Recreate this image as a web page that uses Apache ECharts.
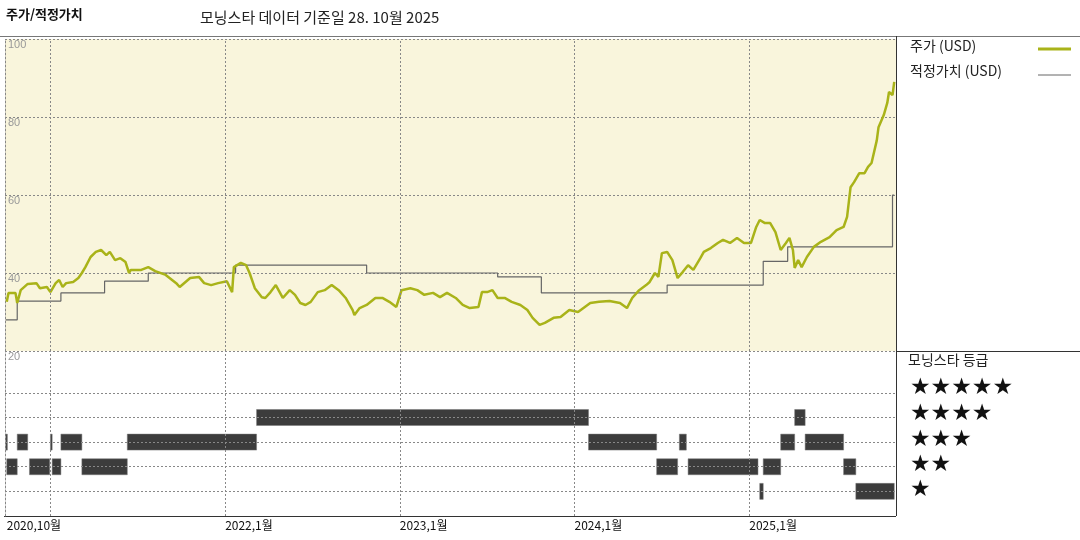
<!DOCTYPE html>
<html>
<head>
<meta charset="utf-8">
<script src="https://cdn.jsdelivr.net/npm/echarts@6/dist/echarts.min.js"></script>
<style>
html, body { margin: 0; padding: 0; background: #fff; }
#main { width: 1080px; height: 540px; }
</style>
</head>
<body>
<div id="main"></div>
<script>
// dates as decimal years
var priceDates = [2020.75, 2020.76, 2020.80, 2020.81, 2020.83, 2020.87, 2020.92, 2020.94, 2020.98, 2021.00,
    2021.03, 2021.05, 2021.07, 2021.09, 2021.13, 2021.16, 2021.18, 2021.20, 2021.23, 2021.26,
    2021.29, 2021.32, 2021.34, 2021.37, 2021.40, 2021.43, 2021.45, 2021.46, 2021.52, 2021.56,
    2021.60, 2021.66, 2021.72, 2021.74, 2021.80, 2021.85, 2021.88, 2021.92, 2021.96, 2022.01,
    2022.04, 2022.05, 2022.09, 2022.12, 2022.14, 2022.17, 2022.21, 2022.23, 2022.26, 2022.29,
    2022.33, 2022.37, 2022.40, 2022.43, 2022.46, 2022.49, 2022.53, 2022.57, 2022.61, 2022.65,
    2022.69, 2022.73, 2022.74, 2022.77, 2022.81, 2022.86, 2022.90, 2022.94, 2022.98, 2023.01,
    2023.06, 2023.10, 2023.14, 2023.19, 2023.23, 2023.27, 2023.32, 2023.36, 2023.40, 2023.45,
    2023.47, 2023.50, 2023.53, 2023.56, 2023.60, 2023.64, 2023.69, 2023.73, 2023.76, 2023.80,
    2023.83, 2023.88, 2023.92, 2023.97, 2024.02, 2024.09, 2024.14, 2024.20, 2024.26, 2024.30,
    2024.33, 2024.37, 2024.41, 2024.43, 2024.46, 2024.48, 2024.50, 2024.53, 2024.56, 2024.59,
    2024.62, 2024.65, 2024.68, 2024.72, 2024.74, 2024.78, 2024.82, 2024.85, 2024.89, 2024.93,
    2024.97, 2025.01, 2025.04, 2025.06, 2025.09, 2025.12, 2025.15, 2025.18, 2025.21, 2025.23,
    2025.25, 2025.26, 2025.28, 2025.30, 2025.33, 2025.37, 2025.41, 2025.46, 2025.50, 2025.54,
    2025.56, 2025.58, 2025.60, 2025.63, 2025.66, 2025.68, 2025.70, 2025.73, 2025.74, 2025.77,
    2025.79, 2025.80, 2025.82, 2025.83];
var priceValues = [32.6, 34.9, 34.9, 32.3, 35.6, 37.2, 37.4, 36.1, 36.4, 35.1,
    37.4, 38.2, 36.4, 37.4, 37.7, 38.7, 40.0, 41.5, 44.1, 45.4,
    45.9, 44.6, 45.4, 43.3, 43.8, 42.8, 40.0, 40.8, 40.8, 41.5,
    40.5, 39.5, 37.4, 36.4, 38.7, 39.0, 37.4, 36.9, 37.4, 37.9,
    35.1, 41.5, 42.6, 42.0, 40.0, 36.1, 33.8, 33.6, 35.1, 36.9,
    33.6, 35.6, 34.4, 32.3, 31.8, 32.6, 35.1, 35.6, 36.9, 35.6,
    33.6, 30.5, 29.2, 31.0, 31.8, 33.6, 33.6, 32.6, 31.3, 35.6,
    36.1, 35.6, 34.4, 34.9, 33.8, 34.9, 33.6, 31.8, 31.0, 31.3,
    35.1, 35.1, 35.6, 33.6, 33.6, 32.6, 31.8, 30.5, 28.5, 26.7,
    27.2, 28.5, 28.7, 30.5, 30.0, 32.3, 32.6, 32.8, 32.3, 31.0,
    33.6, 35.6, 36.9, 37.7, 40.0, 39.0, 45.1, 45.4, 43.3, 38.7,
    40.3, 42.0, 40.8, 43.8, 45.4, 46.4, 47.7, 48.5, 47.7, 49.0,
    47.7, 47.7, 51.8, 53.6, 52.8, 52.8, 50.5, 45.9, 47.7, 49.0,
    45.9, 41.3, 43.3, 41.5, 44.1, 46.7, 48.0, 49.2, 51.0, 51.8,
    54.4, 62.0, 63.3, 65.6, 65.6, 67.2, 68.2, 74.0, 77.4, 80.5,
    83.6, 86.4, 85.6, 89.0];

var fairDates = [2020.745, 2020.81, 2021.06, 2021.31, 2021.56, 2022.06, 2022.81, 2023.56, 2023.81, 2024.53, 2025.08, 2025.22, 2025.82, 2025.83];
var fairValues = [28, 32.8, 34.9, 37.9, 40, 42, 40, 39, 34.9, 36.9, 43, 46.7, 60, 60];

var ratingStart = [2020.745, 2020.75, 2020.81, 2020.88, 2021.00, 2021.01, 2021.06, 2021.18, 2021.44, 2022.18, 2024.08, 2024.47, 2024.60, 2024.65, 2025.06, 2025.08, 2025.18, 2025.26, 2025.32, 2025.54, 2025.61];
var ratingEnd = [2020.75, 2020.81, 2020.87, 2020.996, 2021.01, 2021.06, 2021.18, 2021.44, 2022.18, 2024.08, 2024.47, 2024.59, 2024.64, 2025.05, 2025.08, 2025.18, 2025.26, 2025.32, 2025.54, 2025.61, 2025.83];
var ratingStars = [3, 2, 3, 2, 3, 2, 3, 2, 3, 4, 3, 2, 3, 2, 1, 2, 3, 4, 3, 2, 1];

var xTicks = [2020.75, 2021, 2022, 2023, 2024, 2025];
var starRows = [5, 4, 3, 2, 1];

var xMin = 2020.74, xMax = 2025.84;
var dash = { color: '#888', type: [2, 2], width: 1 };

var priceData = priceDates.map(function (d, i) { return [d, priceValues[i]]; });
var fairData = fairDates.map(function (d, i) { return [d, fairValues[i]]; });
var ratingData = ratingStars.map(function (s, i) { return [ratingStart[i], ratingEnd[i], s]; });

var vLines = [2021, 2022, 2023, 2024, 2025].map(function (v) { return { xAxis: v }; });

var graphics = [
    { type: 'text', left: 6, top: 8, style: { text: '주가/적정가치', font: 'bold 13px "Noto Sans CJK KR"', fill: '#111' } },
    { type: 'text', left: 200, top: 10, style: { text: '모닝스타 데이터 기준일 28. 10월 2025', font: '15px "Noto Sans CJK KR"', fill: '#222' } },
    { type: 'line', shape: { x1: 0, y1: 36.5, x2: 1080, y2: 36.5 }, style: { stroke: '#777', lineWidth: 1 } },
    { type: 'line', shape: { x1: 896.5, y1: 36, x2: 896.5, y2: 516 }, style: { stroke: '#333', lineWidth: 1 } },
    { type: 'line', shape: { x1: 896, y1: 351.5, x2: 1080, y2: 351.5 }, style: { stroke: '#333', lineWidth: 1 } },
    { type: 'line', shape: { x1: 4, y1: 516.5, x2: 896, y2: 516.5 }, style: { stroke: '#333', lineWidth: 1 } },
    { type: 'text', left: 910, top: 39, style: { text: '주가 (USD)', font: '14px "Noto Sans CJK KR"', fill: '#222' } },
    { type: 'line', shape: { x1: 1038, y1: 49, x2: 1071, y2: 49 }, style: { stroke: '#a9b319', lineWidth: 3 } },
    { type: 'text', left: 910, top: 64, style: { text: '적정가치 (USD)', font: '14px "Noto Sans CJK KR"', fill: '#222' } },
    { type: 'line', shape: { x1: 1038, y1: 75, x2: 1071, y2: 75 }, style: { stroke: '#666', lineWidth: 1 } },
    { type: 'text', left: 908, top: 353, style: { text: '모닝스타 등급', font: '14px "Noto Sans CJK KR"', fill: '#222' } }
];
var starY = [377, 403, 429, 454, 479];
starRows.forEach(function (n, i) {
    graphics.push({ type: 'text', left: 910, top: starY[i], style: { text: '★★★★★'.slice(0, n), font: '23px "DejaVu Sans"', fill: '#111' } });
});

var option = {
    animation: false,
    graphic: graphics,
    grid: [
        { left: 5, right: 184, top: 39, height: 312, backgroundColor: '#f9f5dc', show: true, borderWidth: 0 },
        { left: 5, right: 184, top: 351, height: 165 }
    ],
    xAxis: [
        { gridIndex: 0, type: 'value', min: xMin, max: xMax, axisLine: { show: false }, axisTick: { show: false }, axisLabel: { show: false }, splitLine: { show: false } },
        {
            gridIndex: 1, type: 'value', min: xMin, max: xMax,
            axisLine: { show: false }, axisTick: { show: false }, splitLine: { show: false },
            axisLabel: {
                customValues: xTicks, align: 'left', margin: 3, color: '#111', fontSize: 12,
                fontFamily: '"Noto Sans CJK KR"', hideOverlap: false, showMinLabel: true,
                formatter: function (v) { return v === 2020.75 ? '2020,10월' : Math.round(v) + ',1월'; }
            }
        }
    ],
    yAxis: [
        {
            gridIndex: 0, type: 'value', min: 20, max: 100, interval: 20,
            axisLine: { show: true, lineStyle: dash }, axisTick: { show: false },
            splitLine: { show: true, lineStyle: dash },
            axisLabel: { inside: true, verticalAlign: 'top', margin: 3, color: '#999', fontSize: 11, fontFamily: 'Arial', showMaxLabel: true, showMinLabel: true }
        },
        {
            gridIndex: 1, type: 'value', min: 0, max: 6.7,
            axisLine: { show: true, lineStyle: dash }, axisTick: { show: false },
            axisLabel: { show: false }, splitLine: { show: false }
        }
    ],
    series: [
        {
            type: 'line', xAxisIndex: 0, yAxisIndex: 0, data: [], silent: true,
            markLine: { symbol: 'none', silent: true, label: { show: false }, lineStyle: dash, data: vLines }
        },
        {
            name: '적정가치 (USD)', type: 'line', step: 'end', xAxisIndex: 0, yAxisIndex: 0,
            data: fairData, symbol: 'none', lineStyle: { color: '#666', width: 1.2 }
        },
        {
            name: '주가 (USD)', type: 'line', xAxisIndex: 0, yAxisIndex: 0,
            data: priceData, symbol: 'none', lineStyle: { color: '#a9b319', width: 2.5 }
        },
        {
            type: 'line', xAxisIndex: 1, yAxisIndex: 1, data: [], silent: true,
            markLine: {
                symbol: 'none', silent: true, label: { show: false }, lineStyle: dash,
                data: vLines.concat(starRows.map(function (s) { return { yAxis: s }; }))
            }
        },
        {
            type: 'custom', xAxisIndex: 1, yAxisIndex: 1, data: ratingData,
            renderItem: function (params, api) {
                var a = api.coord([api.value(0), api.value(2)]);
                var b = api.coord([api.value(1), api.value(2)]);
                var w = Math.max(b[0] - a[0], 1.5);
                return {
                    type: 'rect',
                    shape: { x: a[0], y: a[1] - 8, width: w, height: 16 },
                    style: { fill: '#3c3c3c', stroke: '#777', lineWidth: 0.5 }
                };
            }
        }
    ]
};

var myChart = echarts.init(document.getElementById('main'));
myChart.setOption(option);
</script>
</body>
</html>
